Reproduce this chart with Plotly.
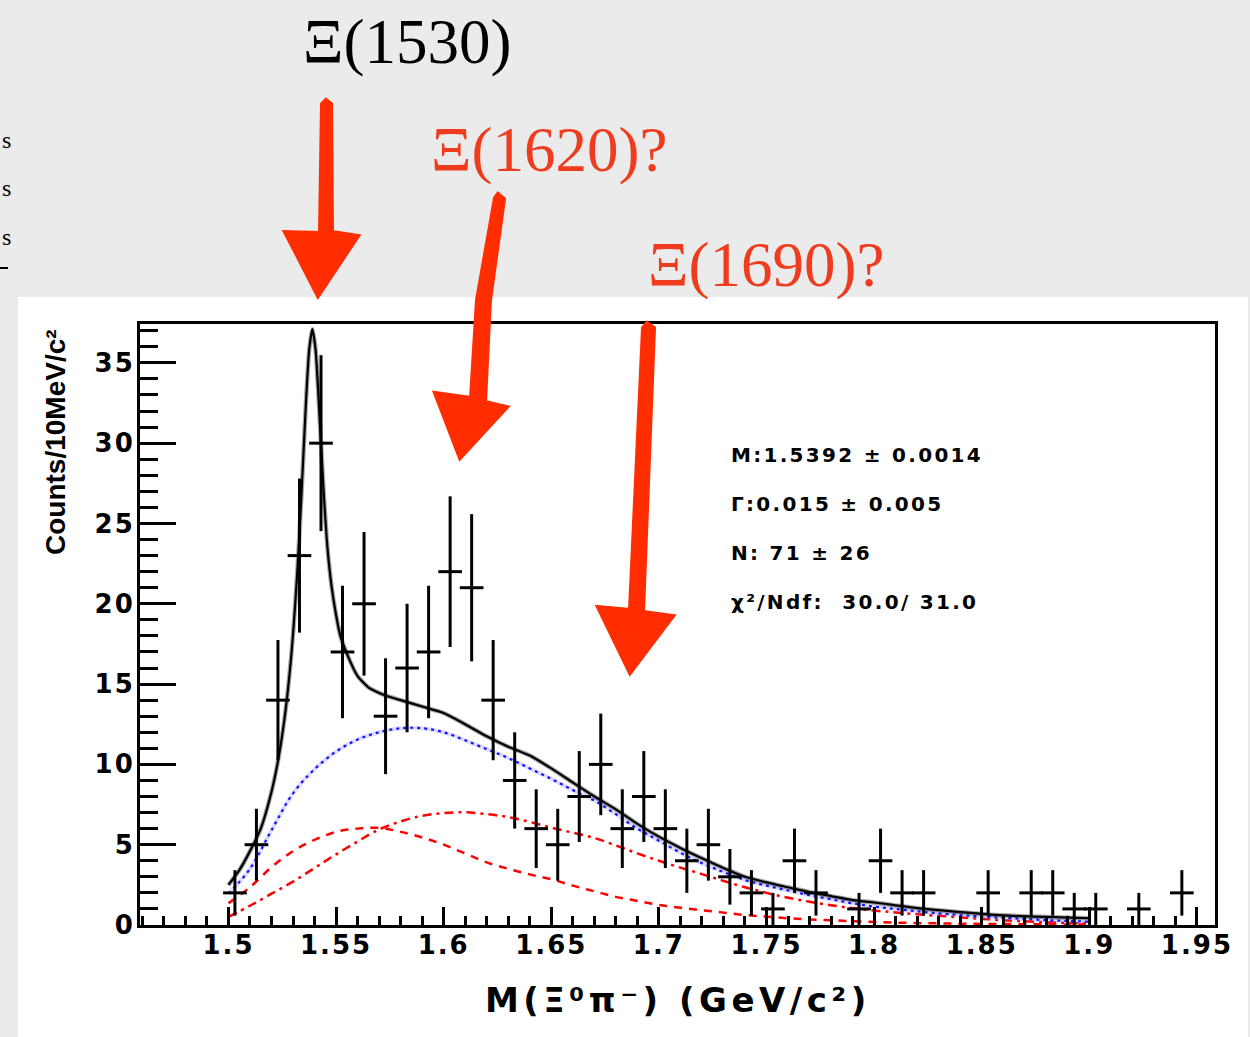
import numpy as np
import plotly.graph_objects as go

W, H = 1250, 1037

# ---- histogram: centres (GeV/c^2) and entries of the non-empty 10 MeV bins ----
bin_centres = [1.503, 1.513, 1.523, 1.533, 1.543, 1.553, 1.563, 1.573, 1.583, 1.593,
               1.603, 1.613, 1.623, 1.633, 1.643, 1.653, 1.663, 1.673, 1.683, 1.693,
               1.703, 1.713, 1.723, 1.733, 1.743, 1.753, 1.763, 1.773,
               1.793, 1.803, 1.813, 1.823, 1.853, 1.873, 1.883, 1.893, 1.903,
               1.923, 1.943]
counts = [2, 5, 14, 23, 30, 17, 20, 13, 16, 17,
          22, 21, 14, 9, 6, 5, 8, 10, 6, 8,
          6, 4, 5, 3, 2, 1, 4, 2,
          1, 4, 2, 2, 2, 2, 2, 1, 1,
          1, 2]
half_bin = 0.0055

# ---- background components of the fit ----
bkg_x = [1.50, 1.51, 1.52, 1.53, 1.54, 1.55, 1.56, 1.57, 1.58, 1.59,
         1.60, 1.61, 1.62, 1.63, 1.64, 1.65, 1.66, 1.67, 1.68, 1.69,
         1.70, 1.71, 1.72, 1.73, 1.74, 1.75, 1.76, 1.77, 1.78, 1.79,
         1.80, 1.81, 1.82, 1.83, 1.84, 1.85, 1.86, 1.87, 1.88, 1.89, 1.90]
bkg_dashed = [1.35, 2.35, 3.6, 4.6, 5.3, 5.8, 6.0, 6.05, 5.8, 5.45,
              5.0, 4.45, 3.9, 3.5, 3.15, 2.85, 2.45, 2.1, 1.75, 1.5,
              1.25, 1.07, 0.92, 0.77, 0.62, 0.52, 0.42, 0.35, 0.3, 0.24,
              0.19, 0.15, 0.12, 0.1, 0.08, 0.07, 0.06, 0.05, 0.04, 0.035, 0.03]
bkg_dashdot = [0.5, 1.2, 1.95, 2.7, 3.55, 4.4, 5.2, 5.95, 6.45, 6.8,
               6.97, 7.02, 6.9, 6.72, 6.42, 6.06, 5.75, 5.42, 4.95, 4.46,
               4.0, 3.57, 3.17, 2.75, 2.35, 2.0, 1.7, 1.45, 1.23, 1.05,
               0.9, 0.78, 0.67, 0.57, 0.48, 0.38, 0.3, 0.23, 0.17, 0.13, 0.1]
bkg_total = [1.95, 3.5, 5.9, 8.2, 9.7, 10.8, 11.55, 12.0, 12.25, 12.25,
             12.0, 11.5, 10.95, 10.4, 9.75, 9.1, 8.4, 7.75, 6.9, 6.0,
             5.25, 4.5, 3.85, 3.3, 2.8, 2.45, 2.15, 1.85, 1.6, 1.35,
             1.15, 1.0, 0.85, 0.72, 0.62, 0.52, 0.45, 0.38, 0.3, 0.25, 0.2]

# ---- total fit (Breit-Wigner + background) ----
fit_x = [1.500, 1.505, 1.510, 1.515, 1.520, 1.523, 1.526, 1.529, 1.532, 1.534,
         1.536, 1.5375, 1.539, 1.5405, 1.542, 1.544, 1.546, 1.548, 1.550, 1.552,
         1.555, 1.560, 1.565, 1.570, 1.575, 1.580, 1.590, 1.600, 1.610, 1.620,
         1.630, 1.640, 1.650, 1.660, 1.670, 1.680, 1.690, 1.700, 1.710, 1.720,
         1.730, 1.740, 1.750, 1.760, 1.770, 1.780, 1.790, 1.800, 1.820, 1.840,
         1.860, 1.880, 1.900]
fit_total = [2.5, 3.4, 4.6, 6.0, 8.3, 10.2, 12.8, 16.5, 22.0, 27.0,
             32.5, 35.8, 37.1, 35.8, 32.5, 27.5, 23.5, 21.0, 19.3, 18.0,
             16.9, 15.5, 14.8, 14.45, 14.2, 14.0, 13.6, 13.2, 12.5, 11.75,
             11.1, 10.55, 9.75, 8.87, 8.0, 7.2, 6.3, 5.5, 4.8, 4.15,
             3.55, 3.0, 2.65, 2.35, 2.05, 1.8, 1.55, 1.4, 1.05, 0.8,
             0.6, 0.5, 0.42]

x_ticks = [1.5, 1.55, 1.6, 1.65, 1.7, 1.75, 1.8, 1.85, 1.9, 1.95]
x_tick_labels = ["1.5", "1.55", "1.6", "1.65", "1.7", "1.75", "1.8", "1.85", "1.9", "1.95"]
y_ticks = [0, 5, 10, 15, 20, 25, 30, 35]
y_tick_labels = ["0", "5", "10", "15", "20", "25", "30", "35"]

fit_results = ["M:1.5392 \u00b1 0.0014",
               "\u0393:0.015 \u00b1 0.005",
               "N: 71 \u00b1 26",
               "\u03c7\u00b2/Ndf:  30.0/ 31.0"]

states = ["\u039e(1530)", "\u039e(1620)?", "\u039e(1690)?"]

x_title = "M(\u039e\u2070\u03c0\u207b) (GeV/c\u00b2)"
y_title = "Counts/10MeV/c\u00b2"

SANS = "DejaVu Sans"
SERIF = "Liberation Serif"
ARROW_RED = "#ff2d00"
LABEL_RED = "#f03c1e"


def spaced(text, px):
    return f'<span style="letter-spacing:{px}px">{text}</span>'


def fx(px):
    return px / W


def fy(py):
    return 1 - py / H


def path(points):
    pts = [f"{fx(a):.5f},{fy(b):.5f}" for a, b in points]
    return "M " + " L ".join(pts) + " Z"


fig = go.Figure()

# background components
fig.add_trace(go.Scatter(x=bkg_x, y=bkg_dashed, mode="lines", line_shape="spline",
                         line=dict(color="rgb(255,0,0)", width=2.5, dash="8px,7px"),
                         hoverinfo="skip"))
fig.add_trace(go.Scatter(x=bkg_x, y=bkg_dashdot, mode="lines", line_shape="spline",
                         line=dict(color="rgb(255,0,0)", width=2.5, dash="9px,5px,3px,5px"),
                         hoverinfo="skip"))
fig.add_trace(go.Scatter(x=bkg_x, y=bkg_total, mode="lines", line_shape="spline",
                         line=dict(color="rgba(120,120,255,0.25)", width=4),
                         hoverinfo="skip"))
fig.add_trace(go.Scatter(x=bkg_x, y=bkg_total, mode="lines", line_shape="spline",
                         line=dict(color="rgb(20,20,255)", width=2.2, dash="3px,4px"),
                         hoverinfo="skip"))

# histogram with Poisson errors
fig.add_trace(go.Scatter(
    x=bin_centres, y=counts, mode="markers",
    marker=dict(size=3, color="black"),
    error_y=dict(type="data", array=np.sqrt(counts), thickness=3, width=0, color="black"),
    error_x=dict(type="constant", value=half_bin, thickness=3, width=0, color="black"),
    hoverinfo="skip"))

# total fit
fig.add_trace(go.Scatter(x=fit_x, y=fit_total, mode="lines", line_shape="spline",
                         line=dict(color="rgba(0,0,0,0.35)", width=4.5, smoothing=0.6),
                         hoverinfo="skip"))
fig.add_trace(go.Scatter(x=fit_x, y=fit_total, mode="lines", line_shape="spline",
                         line=dict(color="black", width=2.2, smoothing=0.6),
                         hoverinfo="skip"))

tickfont = dict(family=SANS, size=26, color="black", weight="bold")
axis_common = dict(ticks="inside", tickcolor="black", tickwidth=3,
                   showline=True, linewidth=3, linecolor="black", mirror=True,
                   showgrid=False, zeroline=False, tickfont=tickfont,
                   fixedrange=True, automargin=False)

fig.update_layout(
    width=W, height=H, autosize=False,
    margin=dict(l=0, r=0, t=0, b=0, pad=0),
    paper_bgcolor="#ebebeb", plot_bgcolor="white",
    showlegend=False, template="none",
    xaxis=dict(domain=[140 / W, 1215 / W], range=[1.4589, 1.9584],
               tickmode="array", tickvals=x_ticks,
               ticktext=[spaced(t, 2) for t in x_tick_labels],
               ticklen=18, ticklabelstandoff=-5,
               minor=dict(ticks="inside", ticklen=9, tickwidth=2.5, tickcolor="black",
                          tickmode="linear", tick0=1.46, dtick=0.01, showgrid=False),
               **axis_common),
    yaxis=dict(domain=[(H - 925) / H, (H - 324) / H], range=[0, 37.42],
               tickmode="array", tickvals=y_ticks,
               ticktext=[spaced(t, 2) for t in y_tick_labels],
               ticklen=36, ticklabelstandoff=-3,
               minor=dict(ticks="inside", ticklen=18, tickwidth=3, tickcolor="black",
                          tickmode="linear", tick0=0, dtick=1, showgrid=False),
               **axis_common),
)

shapes = [
    # white slide panel behind the figure
    dict(type="rect", xref="paper", yref="paper", x0=fx(18), x1=fx(1248), y0=0, y1=fy(297),
         fillcolor="white", line=dict(width=0), layer="below"),
    # short rule at the left edge
    dict(type="line", xref="paper", yref="paper", x0=0, x1=fx(8), y0=fy(268), y1=fy(268),
         line=dict(color="black", width=2), layer="above"),
]

arrows = [
    [(326, 100), (331, 104), (332, 232), (358, 236), (318, 296), (285, 232), (320, 233), (322, 104)],
    [(498, 194), (504, 199), (490, 300), (485, 402), (507, 407), (460, 458), (435, 393),
     (471, 398), (477, 300), (495, 198)],
    [(647, 323), (654, 328), (643, 612), (673, 616), (630, 673), (598, 607), (630, 610), (643, 328)],
]
for pts in arrows:
    shapes.append(dict(type="path", xref="paper", yref="paper", path=path(pts),
                       fillcolor=ARROW_RED, line=dict(color=ARROW_RED, width=4),
                       layer="above"))
fig.update_layout(shapes=shapes)

annotations = []
# resonance labels
label_pos = [(407, 42, "black"), (549, 150, LABEL_RED), (766, 265, LABEL_RED)]
for text, (px, py, col) in zip(states, label_pos):
    annotations.append(dict(x=fx(px), y=fy(py), xref="paper", yref="paper", text=text,
                            showarrow=False, xanchor="center", yanchor="middle",
                            font=dict(family=SERIF, size=63, color=col)))

# fit results
for i, line in enumerate(fit_results):
    annotations.append(dict(x=fx(729), y=fy(455 + 49 * i), xref="paper", yref="paper",
                            text=spaced(line, 2.3), showarrow=False,
                            xanchor="left", yanchor="middle",
                            font=dict(family=SANS, size=20, color="black", weight="bold")))

# axis titles
annotations.append(dict(x=fx(678), y=fy(1000), xref="paper", yref="paper",
                        text=spaced(x_title, 4.5),
                        showarrow=False, xanchor="center", yanchor="middle",
                        font=dict(family=SANS, size=34, color="black", weight="bold")))
annotations.append(dict(x=fx(55), y=fy(442), xref="paper", yref="paper",
                        text=y_title, textangle=-90,
                        showarrow=False, xanchor="center", yanchor="middle",
                        font=dict(family="Liberation Sans", size=28, color="black", weight="bold")))

# fragments of neighbouring slide text at the left edge
for py in (140, 188, 237):
    annotations.append(dict(x=0, y=fy(py), xref="paper", yref="paper", text="s",
                            showarrow=False, xanchor="left", yanchor="middle",
                            font=dict(family=SERIF, size=24, color="black")))

fig.update_layout(annotations=annotations)

fig.write_html("out.html")
